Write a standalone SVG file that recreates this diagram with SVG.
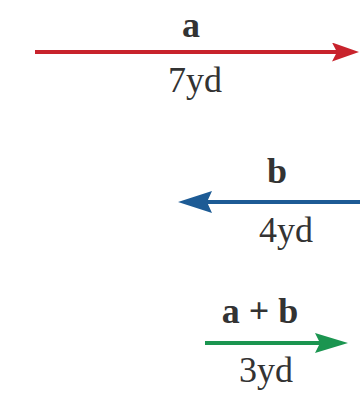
<svg xmlns="http://www.w3.org/2000/svg" width="360" height="394" viewBox="0 0 360 394">
<style>
.lbl{font-family:"Liberation Serif","Times New Roman",serif;font-size:36px;fill:#333;text-anchor:middle}
.b{font-weight:bold}
.vec{stroke-width:4;fill:none;stroke-linecap:butt}
</style>
<defs>
<marker id="hr" markerUnits="userSpaceOnUse" markerWidth="28" markerHeight="20" refX="5" refY="9.5" orient="auto"><path d="M0,0 L27,9.5 L0,19 L5,9.5 z" fill="#c8232c"/></marker>
<marker id="hb" markerUnits="userSpaceOnUse" markerWidth="35" markerHeight="23" refX="5" refY="11" orient="auto"><path d="M0,0 L34,11 L0,22 L5,11 z" fill="#1d5b95"/></marker>
<marker id="hg" markerUnits="userSpaceOnUse" markerWidth="34" markerHeight="21" refX="5" refY="10" orient="auto"><path d="M0,0 L33,10 L0,20 L5,10 z" fill="#1b9550"/></marker>
</defs>
<rect width="360" height="394" fill="#fff"/>
<g id="connectors">
<line class="vec" x1="35" y1="52" x2="337" y2="52" stroke="#c8232c" marker-end="url(#hr)"/>
<line class="vec" x1="360" y1="202" x2="207" y2="202" stroke="#1d5b95" marker-end="url(#hb)"/>
<line class="vec" x1="205" y1="343" x2="320" y2="343" stroke="#1b9550" marker-end="url(#hg)"/>
</g>
<g id="vector-a">
<text class="lbl b" x="191" y="37">a</text>
<text class="lbl" x="195" y="92">7yd</text>
</g>
<g id="vector-b">
<text class="lbl b" x="277" y="183">b</text>
<text class="lbl" x="286" y="242">4yd</text>
</g>
<g id="vector-sum">
<text class="lbl b" x="260" y="323">a + b</text>
<text class="lbl" x="266" y="382">3yd</text>
</g>
</svg>
